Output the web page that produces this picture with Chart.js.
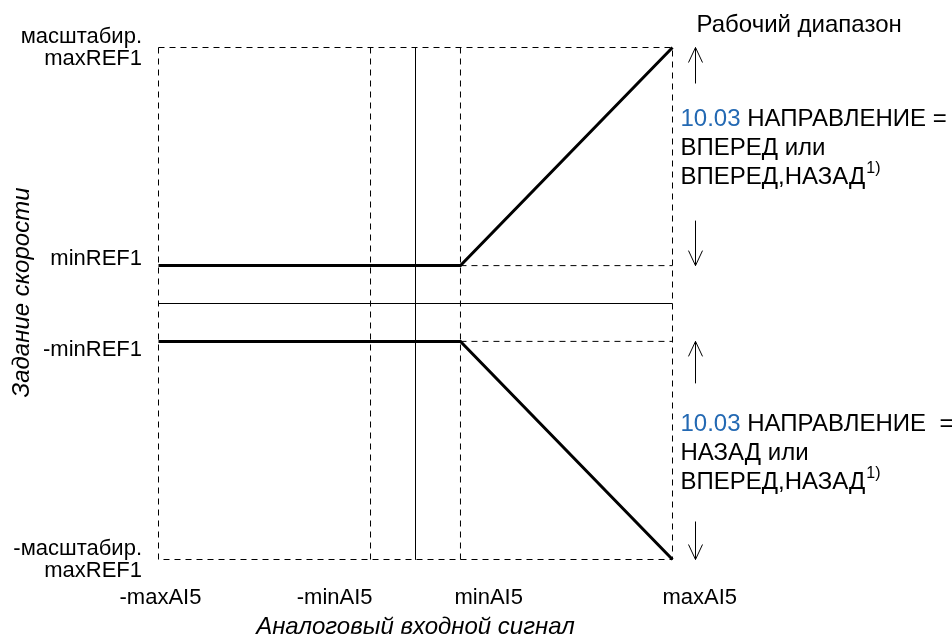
<!DOCTYPE html>
<html>
<head>
<meta charset="utf-8">
<script src="https://cdn.jsdelivr.net/npm/chart.js@4.4.1/dist/chart.umd.min.js"></script>
<style>
  body { margin: 0; background: #fff; }
  #wrap { width: 952px; height: 642px; }
</style>
</head>
<body>
<div id="wrap"><canvas id="chart" width="952" height="642"></canvas></div>
<script>
// values (arbitrary units, max = 10)
const maxAI = 10;
const minAI = 1.75;
const maxREF = 10;
const minREF = 1.48;

const xTickValues = [-maxAI, -minAI, minAI, maxAI];
const xTickLabels = ['-maxAI5', '-minAI5', 'minAI5', 'maxAI5'];
const yTickValues = [maxREF, minREF, -minREF, -maxREF];
const yTickLabels = [['масштабир.', 'maxREF1'], ['minREF1'], ['-minREF1'], ['-масштабир.', 'maxREF1']];

const upperX = [-maxAI, minAI, maxAI];
const upperY = [minREF, minREF, maxREF];
const lowerX = [-maxAI, minAI, maxAI];
const lowerY = [-minREF, -minREF, -maxREF];

const xTitle = 'Аналоговый входной сигнал';
const yTitle = 'Задание скорости';
const rangeTitle = 'Рабочий диапазон';
const paramId = '10.03';
const fwdText = [' НАПРАВЛЕНИЕ =', 'ВПЕРЕД или', 'ВПЕРЕД,НАЗАД'];
const revText = [' НАПРАВЛЕНИЕ  =', 'НАЗАД или', 'ВПЕРЕД,НАЗАД'];
const footnote = '1)';

const FONT = '"Liberation Sans", Arial, sans-serif';
const pts = (xs, ys) => xs.map((x, i) => ({ x: x, y: ys[i] }));

function lineSet(data, width, dash) {
  return {
    data: data,
    showLine: true,
    borderColor: '#000',
    borderWidth: width,
    borderDash: dash || [],
    pointRadius: 0,
    tension: 0,
    clip: false
  };
}

const dash = [6, 5];
const datasets = [
  // dashed frame and guides
  lineSet(pts([-maxAI, maxAI, maxAI, -maxAI, -maxAI], [maxREF, maxREF, -maxREF, -maxREF, maxREF]), 1, dash),
  lineSet(pts([-minAI, -minAI], [maxREF, -maxREF]), 1, dash),
  lineSet(pts([minAI, minAI], [maxREF, -maxREF]), 1, dash),
  lineSet(pts([minAI, maxAI], [minREF, minREF]), 1, dash),
  lineSet(pts([minAI, maxAI], [-minREF, -minREF]), 1, dash),
  // zero axes
  lineSet(pts([0, 0], [maxREF, -maxREF]), 1),
  lineSet(pts([-maxAI, maxAI], [0, 0]), 1),
  // characteristic curves
  lineSet(pts(upperX, upperY), 3),
  lineSet(pts(lowerX, lowerY), 3)
];

function arrow(ctx, x, y1, y2) {
  const dir = y2 > y1 ? 1 : -1;
  ctx.beginPath();
  ctx.moveTo(x, y1);
  ctx.lineTo(x, y2);
  ctx.moveTo(x - 7, y2 - dir * 15);
  ctx.lineTo(x, y2);
  ctx.lineTo(x + 7, y2 - dir * 15);
  ctx.stroke();
}

const labelsPlugin = {
  id: 'labels',
  afterDraw(chart) {
    const ctx = chart.ctx;
    const xs = chart.scales.x, ys = chart.scales.y;
    ctx.save();
    ctx.fillStyle = '#000';
    ctx.textBaseline = 'middle';
    ctx.font = '22px ' + FONT;

    // y tick labels
    const yNudge = [-11, -7, 9, -11];
    ctx.textAlign = 'right';
    yTickValues.forEach((v, i) => {
      const py = ys.getPixelForValue(v) + yNudge[i];
      yTickLabels[i].forEach((t, j) => ctx.fillText(t, 142, py + j * 22));
    });

    // x tick labels
    const xAlign = ['center', 'right', 'left', 'left'];
    const xNudge = [2, 2, -6, -10];
    const ty = xs.bottom + 38;
    xTickValues.forEach((v, i) => {
      ctx.textAlign = xAlign[i];
      ctx.fillText(xTickLabels[i], xs.getPixelForValue(v) + xNudge[i], ty);
    });

    // axis titles
    ctx.font = 'italic 24px ' + FONT;
    ctx.textAlign = 'center';
    ctx.fillText(xTitle, xs.getPixelForValue(0), xs.bottom + 68);
    ctx.save();
    ctx.translate(22, ys.getPixelForValue(0) - 11);
    ctx.rotate(-Math.PI / 2);
    ctx.fillText(yTitle, 0, 0);
    ctx.restore();

    // range arrows
    const ax = xs.right + 23;
    ctx.strokeStyle = '#000';
    ctx.lineWidth = 1;
    const pMax = ys.getPixelForValue(maxREF), pMin = ys.getPixelForValue(minREF);
    const nMin = ys.getPixelForValue(-minREF), nMax = ys.getPixelForValue(-maxREF);
    arrow(ctx, ax, pMax + 36, pMax);
    arrow(ctx, ax, pMin - 45, pMin);
    arrow(ctx, ax, nMin + 42, nMin);
    arrow(ctx, ax, nMax - 38, nMax);

    // right side texts
    ctx.textAlign = 'left';
    ctx.font = '24px ' + FONT;
    ctx.fillText(rangeTitle, xs.right + 24, pMax - 22);

    function block(lines, top) {
      const x0 = xs.right + 8;
      ctx.fillStyle = '#2369b3';
      ctx.fillText(paramId, x0, top);
      const w = ctx.measureText(paramId).width;
      ctx.fillStyle = '#000';
      ctx.fillText(lines[0], x0 + w, top);
      ctx.fillText(lines[1], x0, top + 29);
      ctx.fillText(lines[2], x0, top + 58);
      const w2 = ctx.measureText(lines[2]).width;
      ctx.font = '16px ' + FONT;
      ctx.fillText(footnote, x0 + w2 + 1, top + 49);
      ctx.font = '24px ' + FONT;
    }
    block(fwdText, pMax + 72);
    block(revText, nMin + 83);
    ctx.restore();
  }
};

new Chart(document.getElementById('chart'), {
  type: 'scatter',
  data: { datasets: datasets },
  options: {
    responsive: false,
    animation: false,
    layout: { padding: { left: 158.5, right: 279.5, top: 47.5, bottom: 82.5 } },
    plugins: { legend: { display: false }, tooltip: { enabled: false } },
    scales: {
      x: { type: 'linear', min: -maxAI, max: maxAI, display: false },
      y: { type: 'linear', min: -maxREF, max: maxREF, display: false }
    }
  },
  plugins: [labelsPlugin]
});
</script>
</body>
</html>
